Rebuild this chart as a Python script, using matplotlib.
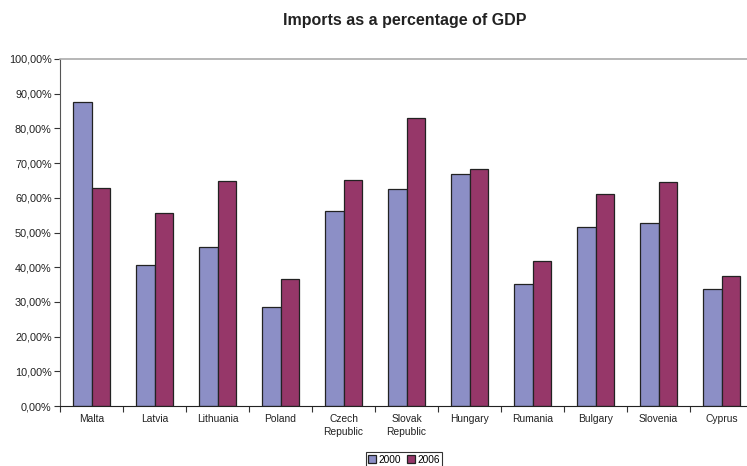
import matplotlib
matplotlib.use("Agg")
import matplotlib.pyplot as plt
import numpy as np

categories = ["Malta", "Latvia", "Lithuania", "Poland", "Czech\nRepublic", "Slovak\nRepublic",
              "Hungary", "Rumania", "Bulgary", "Slovenia", "Cyprus"]
values_2000 = [87.5, 40.7, 45.9, 28.4, 56.2, 62.5, 66.9, 35.3, 51.7, 52.7, 33.6]
values_2006 = [62.9, 55.7, 64.8, 36.5, 65.1, 82.9, 68.2, 41.9, 61.0, 64.5, 37.5]
series_names = ["2000", "2006"]
yticks = list(range(0, 101, 10))

plt.rcParams['font.family'] = ['Liberation Sans', 'DejaVu Sans']

fig = plt.figure(figsize=(7.47, 4.66), dpi=100)
ax = fig.add_axes([60/747, 60/466, 693/747, 347/466])

x = np.arange(len(categories))
w = 0.29
c2000 = "#8C8FC6"
c2006 = "#963769"
ax.bar(x - w/2, values_2000, w, color=c2000, edgecolor="#222222", linewidth=0.9, label=series_names[0])
ax.bar(x + w/2, values_2006, w, color=c2006, edgecolor="#222222", linewidth=0.9, label=series_names[1])

ax.set_xlim(-0.5, len(categories) - 0.5)
ax.set_ylim(0, 100)
ax.set_yticks(yticks)
ax.set_yticklabels([f"{v},00%" for v in yticks], fontsize=7.8, color='#222222')
ax.set_xticks(x)
ax.set_xticklabels(categories, fontsize=7.4, linespacing=1.3, color='#222222')
ax.tick_params(axis='x', length=0, pad=6)
ax.set_xticks(np.arange(-0.5, len(categories), 1), minor=True)
ax.tick_params(axis='x', which='minor', length=4, width=0.8, direction='out', color='#333333')
ax.tick_params(axis='y', length=4, width=0.8, direction='out', color='#333333', pad=2)

ax.spines['right'].set_visible(False)
ax.spines['top'].set_color('#AAAAAA')
ax.spines['top'].set_linewidth(1.2)
ax.spines['left'].set_color('#555555')
ax.spines['bottom'].set_color('#222222')

fig.text(405/747, 1 - 20/466, "Imports as a percentage of GDP", ha='center', va='center',
         fontsize=11.5, fontweight='bold', color='#222222')

leg = fig.legend(loc='upper center', bbox_to_anchor=(404/747, 1 - 452/466), ncol=2,
                 fontsize=7.3, frameon=True, fancybox=False, edgecolor='black',
                 handlelength=0.8, handleheight=0.8, handletextpad=0.2, columnspacing=0.6,
                 borderpad=0.25, borderaxespad=0)
leg.get_frame().set_linewidth(0.8)

fig.savefig("out.png", dpi=100)
